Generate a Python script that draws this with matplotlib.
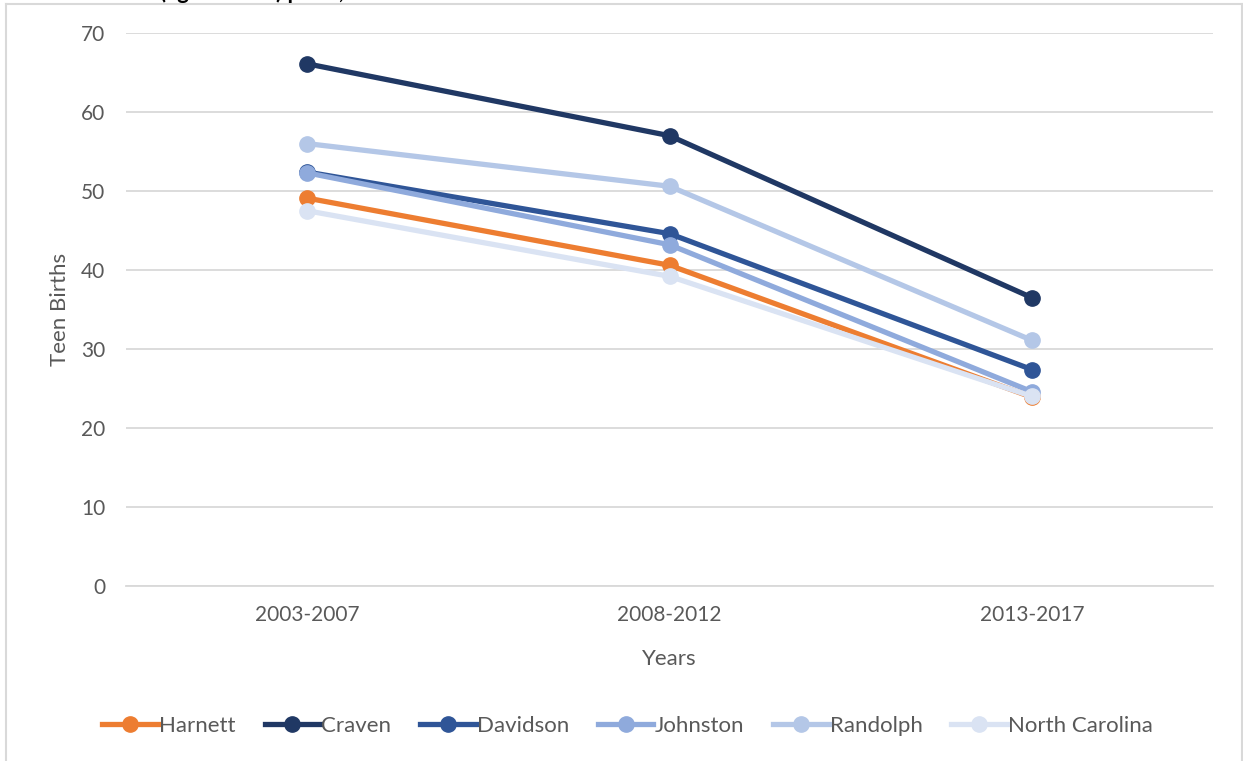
import matplotlib.pyplot as plt
from matplotlib.lines import Line2D

plt.rcParams['font.family'] = ['Lato', 'DejaVu Sans']

# --- Data ---
periods = ['2003-2007', '2008-2012', '2013-2017']
harnett = [49.1, 40.6, 23.9]
craven = [66.1, 57.0, 36.5]
davidson = [52.4, 44.6, 27.4]
johnston = [52.3, 43.2, 24.6]
randolph = [56.0, 50.6, 31.1]
north_carolina = [47.5, 39.2, 24.0]

series = [
    ('Harnett', harnett, '#ED7D31'),
    ('Craven', craven, '#203864'),
    ('Davidson', davidson, '#2F5597'),
    ('Johnston', johnston, '#8FAADC'),
    ('Randolph', randolph, '#B4C7E7'),
    ('North Carolina', north_carolina, '#DAE3F3'),
]
# drawing order (bottom to top) as in the reference
draw_order = ['Randolph', 'Craven', 'Davidson', 'Johnston', 'Harnett', 'North Carolina']

fig = plt.figure(figsize=(12.43, 7.61), dpi=100)
ax = fig.add_axes([126 / 1243, 1 - 586 / 761, (1213 - 126) / 1243, (586 - 33) / 761])

x = list(range(len(periods)))
lookup = {name: (vals, col) for name, vals, col in series}
for z, name in enumerate(draw_order):
    vals, col = lookup[name]
    ax.plot(x, vals, color=col, lw=3.8, marker='o', markersize=11,
            solid_capstyle='round', zorder=3 + z)

ax.set_xlim(-0.5, 2.5)
ax.set_ylim(0, 70)
ax.set_yticks(range(0, 71, 10))
ax.set_xticks(x)
ax.set_xticklabels(periods)
ax.grid(axis='y', color='#D9D9D9', lw=1.3)
ax.set_axisbelow(True)
for s in ['top', 'right', 'left']:
    ax.spines[s].set_visible(False)
ax.spines['bottom'].set_color('#D9D9D9')
ax.spines['bottom'].set_linewidth(1.3)
ax.tick_params(length=0, labelsize=15, labelcolor='#595959', pad=14)
ax.tick_params(axis='y', pad=15)
ax.set_xlabel('Years', fontsize=16, color='#595959', labelpad=17)
ax.set_ylabel('Teen Births', fontsize=16, color='#595959', labelpad=8)

handles = [Line2D([], [], color=col, lw=3.8, marker='o', markersize=11)
           for _, _, col in series]
fig.legend(handles, [n for n, _, _ in series], loc='center', ncol=6,
           bbox_to_anchor=(0.505, 1 - 726 / 761), frameon=False,
           fontsize=16, labelcolor='#595959', handlelength=2.5,
           handletextpad=0.05, columnspacing=1.3)

# chart area border
border = dict(color='#D9D9D9', lw=1.5, transform=fig.transFigure)
fig.add_artist(Line2D([5.5 / 1243, 5.5 / 1243], [0, 1 - 3.5 / 761], **border))
fig.add_artist(Line2D([5.5 / 1243, 1241.5 / 1243], [1 - 3.5 / 761, 1 - 3.5 / 761], **border))
fig.add_artist(Line2D([1241.5 / 1243, 1241.5 / 1243], [0, 1 - 3.5 / 761], **border))

# title cut off at the top of the picture, as in the reference
fig.text(160 / 1243, 1 + 1 / 761, '(ages 15-19) per 1,000', fontsize=16,
         fontweight='bold', color='black', ha='left', va='baseline')

fig.savefig('out.png', dpi=100)
